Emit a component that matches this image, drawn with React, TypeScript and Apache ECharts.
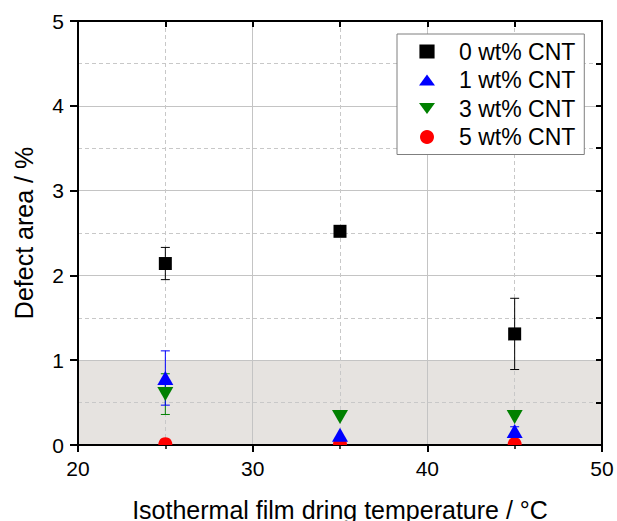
import React, { useEffect, useRef } from "react";
import * as echarts from "echarts";

const temps = [25, 35, 45];
const names = ["0 wt% CNT", "1 wt% CNT", "3 wt% CNT", "5 wt% CNT"];
const colors = ["#000000", "#0000ff", "#008000", "#ff0000"];
const cnt0 = [2.14, 2.52, 1.31];
const cnt0Err = [0.19, 0.05, 0.42];
const cnt1 = [0.79, 0.12, 0.165];
const cnt1Err = [0.32, 0, 0.05];
const cnt3 = [0.6, 0.33, 0.33];
const cnt3Err = [0.24, 0, 0];
const cnt5 = [0.01, 0.01, 0.01];
const band = [[20, 0, 50, 1]];
const xTicks = { min: 20, max: 50, interval: 10 };
const yTicks = { min: 0, max: 5, interval: 1 };

const FONT = "Liberation Sans, Arial, sans-serif";

function errData(ys: number[], es: number[]) {
  return temps
    .map((x, i) => [x, ys[i] - es[i], ys[i] + es[i]])
    .filter((d, i) => es[i] > 0);
}

function errSeries(name: string, ys: number[], es: number[], color: string) {
  return {
    type: "custom",
    name,
    data: errData(ys, es),
    encode: { x: 0, y: [1, 2] },
    renderItem: (params: any, api: any) => {
      const x = api.value(0);
      const top = api.coord([x, api.value(2)]);
      const bot = api.coord([x, api.value(1)]);
      const cw = 4.5;
      const st = { stroke: color, lineWidth: 1 };
      return {
        type: "group",
        children: [
          { type: "line", shape: { x1: top[0], y1: top[1], x2: bot[0], y2: bot[1] }, style: st },
          { type: "line", shape: { x1: top[0] - cw, y1: top[1], x2: top[0] + cw, y2: top[1] }, style: st },
          { type: "line", shape: { x1: bot[0] - cw, y1: bot[1], x2: bot[0] + cw, y2: bot[1] }, style: st },
        ],
      };
    },
  };
}

function pts(ys: number[]) {
  return temps.map((x, i) => [x, ys[i]]);
}

export default function App() {
  const ref = useRef<HTMLDivElement>(null);
  useEffect(() => {
    document.body.style.margin = "0";
    const chart = echarts.init(ref.current!, null, { renderer: "svg" });
    const gridLine = { color: "#c4c4c4", width: 1 };
    const option: any = {
      animation: false,
      backgroundColor: "#ffffff",
      grid: { left: 78, right: 15, top: 21, bottom: 76, containLabel: false, outerBoundsMode: "none" },
      legend: {
        orient: "vertical",
        left: 397,
        top: 34,
        padding: [6, 9, 6, 22],
        itemWidth: 16,
        itemHeight: 14,
        itemGap: 5.5,
        borderColor: "#7f7f7f",
        borderWidth: 1,
        backgroundColor: "#ffffff",
        textStyle: { fontFamily: FONT, fontSize: 23, color: "#000", lineHeight: 23, padding: [0, 0, 0, 19] },
        data: [
          { name: names[0], icon: "path://M0,0H13V12H0Z" },
          { name: names[1], icon: "path://M8,0L16,11L0,11Z" },
          { name: names[2], icon: "path://M0,0L16,0L8,11Z" },
          { name: names[3], icon: "circle" },
        ],
      },
      xAxis: [
        {
          type: "value",
          min: xTicks.min,
          max: xTicks.max,
          interval: xTicks.interval,
          name: "Isothermal film dring temperature / °C",
          nameLocation: "middle",
          nameGap: 52,
          nameTextStyle: { fontFamily: FONT, fontSize: 25, color: "#000" },
          axisLine: { show: true, onZero: false, lineStyle: { color: "#000", width: 2 } },
          axisTick: { show: true, length: 7, lineStyle: { color: "#000", width: 2 } },
          minorTick: { show: true, splitNumber: 2, length: 4, lineStyle: { color: "#000", width: 1.5 } },
          axisLabel: { fontFamily: FONT, fontSize: 21, color: "#000", margin: 13 },
          splitLine: { show: true, lineStyle: gridLine },
          minorSplitLine: { show: true, lineStyle: { color: "#c8c8c8", width: 1, type: [4, 3] } },
        },
        {
          type: "value",
          position: "top",
          min: xTicks.min,
          max: xTicks.max,
          interval: 5,
          axisLine: { show: true, onZero: false, lineStyle: { color: "#000", width: 2 } },
          axisTick: { show: true, inside: true, length: 6, lineStyle: { color: "#000", width: 2 } },
          axisLabel: { show: false },
          splitLine: { show: false },
        },
      ],
      yAxis: [
        {
          type: "value",
          min: yTicks.min,
          max: yTicks.max,
          interval: yTicks.interval,
          name: "Defect area / %",
          nameLocation: "middle",
          nameGap: 42,
          nameTextStyle: { fontFamily: FONT, fontSize: 25, color: "#000" },
          axisLine: { show: true, onZero: false, lineStyle: { color: "#000", width: 2 } },
          axisTick: { show: true, length: 8, lineStyle: { color: "#000", width: 2 } },
          axisLabel: { fontFamily: FONT, fontSize: 21, color: "#000", margin: 14 },
          splitLine: { show: true, lineStyle: gridLine },
          minorTick: { show: false, splitNumber: 2 },
          minorSplitLine: { show: true, lineStyle: { color: "#c8c8c8", width: 1, type: [4, 3] } },
        },
        {
          type: "value",
          position: "right",
          min: yTicks.min,
          max: yTicks.max,
          interval: 0.5,
          axisLine: { show: true, onZero: false, lineStyle: { color: "#000", width: 2 } },
          axisTick: { show: true, inside: true, length: 6, lineStyle: { color: "#000", width: 2 } },
          axisLabel: { show: false },
          splitLine: { show: false },
        },
      ],
      series: [
        {
          type: "custom",
          name: "band",
          z: -1,
          data: band,
          encode: { x: [0, 2], y: [1, 3] },
          renderItem: (params: any, api: any) => {
            const p0 = api.coord([api.value(0), api.value(3)]);
            const p1 = api.coord([api.value(2), api.value(1)]);
            return {
              type: "rect",
              shape: { x: p0[0], y: p0[1], width: p1[0] - p0[0], height: p1[1] - p0[1] },
              style: { fill: "#e6e3e0" },
            };
          },
        },
        errSeries("err0", cnt0, cnt0Err, colors[0]),
        {
          type: "scatter",
          name: names[0],
          data: pts(cnt0),
          symbol: "rect",
          symbolSize: [13, 13],
          itemStyle: { color: colors[0], opacity: 1 },
        },
        errSeries("err3", cnt3, cnt3Err, colors[2]),
        {
          type: "scatter",
          name: names[2],
          data: pts(cnt3),
          symbol: "path://M0,0L16,0L8,14Z",
          symbolSize: [16, 14],
          itemStyle: { color: colors[2], opacity: 1 },
        },
        errSeries("err1", cnt1, cnt1Err, colors[1]),
        {
          type: "scatter",
          name: names[1],
          data: pts(cnt1),
          symbol: "triangle",
          symbolSize: [16, 14],
          itemStyle: { color: colors[1], opacity: 1 },
        },
        {
          type: "custom",
          name: names[3],
          data: pts(cnt5),
          clip: true,
          itemStyle: { color: colors[3] },
          encode: { x: 0, y: 1 },
          renderItem: (params: any, api: any) => {
            const c = api.coord([api.value(0), api.value(1)]);
            return { type: "circle", shape: { cx: c[0], cy: c[1], r: 7 }, style: { fill: colors[3] } };
          },
        },
      ],
    };
    chart.setOption(option);
    return () => chart.dispose();
  }, []);
  return <div ref={ref} style={{ width: 617, height: 521 }} />;
}
